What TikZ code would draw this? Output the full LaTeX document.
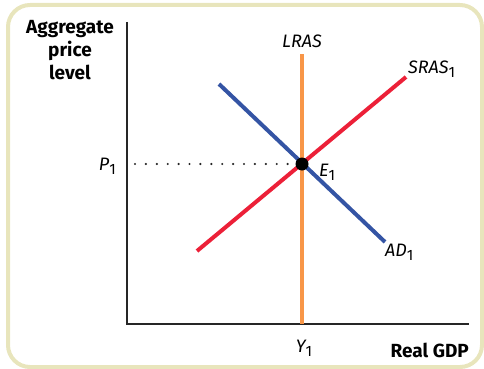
\documentclass[tikz,border=0pt]{standalone}
\usepackage{fontspec}
\setmainfont{Fira Sans}
\usetikzlibrary{positioning}
\definecolor{framebeige}{RGB}{232, 229, 188}
\definecolor{lrasorange}{RGB}{248, 150, 72}
\definecolor{srasred}{RGB}{236, 32, 56}
\definecolor{adblue}{RGB}{52, 84, 164}
\newcommand{\lowone}{\raisebox{-4pt}{\upshape\fontsize{15}{16}\selectfont 1}}

\begin{document}
\begin{tikzpicture}[
  x=1pt, y=-1pt,
  curve/.style={line width=4pt},
  axis/.style={line width=1.4pt, black!85},
  lbl/.style={font=\fontsize{18}{21}\selectfont\itshape, inner sep=1pt},
  ttl/.style={font=\fontsize{19}{23}\selectfont\bfseries, align=center, inner sep=0pt}
]
\useasboundingbox (0,0) rectangle (484,369);

%% ===== frame =====
\draw[framebeige, line width=4pt, rounded corners=22pt] (8,5) rectangle (482,367);

%% ===== axes =====
\coordinate (origin) at (127,324);
\coordinate (ytop) at (127,22);
\coordinate (xend) at (469,324);
\draw[axis] (ytop) -- (origin) -- (xend);

\node[ttl] (ylabel) at (70,50) {Aggregate\\price\\level};
\node[ttl, anchor=east] (xlabel) at (469,350) {Real GDP};

%% ===== curves =====
\coordinate (lras0) at (302,324);
\coordinate (lras1) at (302,54);
\draw[curve, lrasorange] (lras0) -- (lras1);
\node[lbl, anchor=south] (lraslbl) at (302,49) {LRAS};

\coordinate (sras0) at (197,251);
\coordinate (sras1) at (406,77);
\draw[curve, srasred] (sras0) -- (sras1);
\node[lbl, anchor=base west] (sraslbl) at (407,74) {SRAS\lowone};

\coordinate (ad0) at (219,84);
\coordinate (ad1) at (385,242);
\draw[curve, adblue] (ad0) -- (ad1);
\node[lbl, anchor=base west] (adlbl) at (384,256) {AD\lowone};

%% ===== equilibrium =====
\node[circle, fill=black, minimum size=13pt, inner sep=0pt] (eq) at (302,164) {};
\node[lbl, anchor=base west] (eqlbl) at (318,176) {E\lowone};
\node[lbl, anchor=base east] (plbl) at (117,170) {P\lowone};
\coordinate (pstart) at (135,164);
\draw[line width=2.4pt, line cap=round, dash pattern=on 0pt off 10.9pt, black!85] (pstart) -- (eq.west);
\node[lbl, anchor=base] (ylbl) at (304,352) {Y\lowone};

\end{tikzpicture}
\end{document}
